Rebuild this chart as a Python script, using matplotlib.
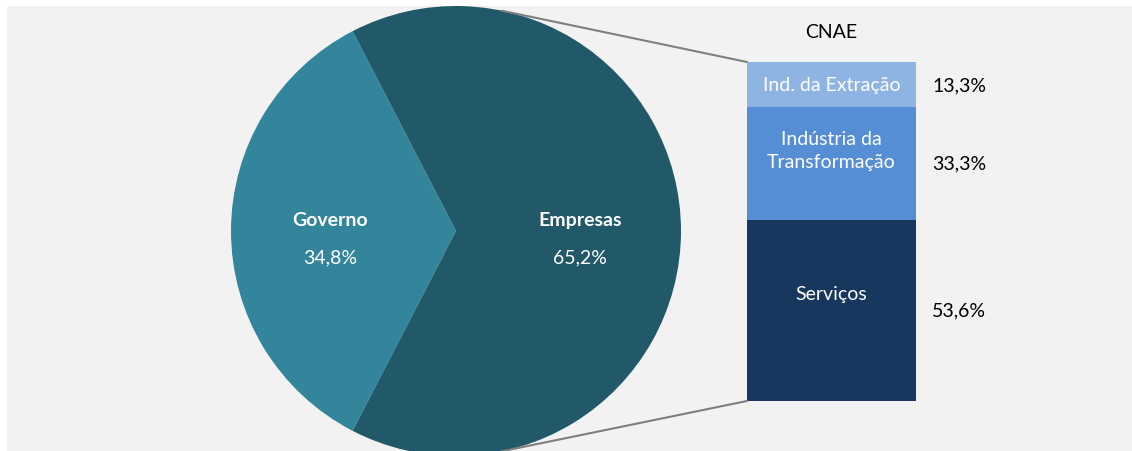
import numpy as np
import matplotlib
matplotlib.use("Agg")
import matplotlib.pyplot as plt
from matplotlib.patches import Rectangle, ConnectionPatch

plt.rcParams['font.family'] = ['Lato', 'DejaVu Sans']

# pie: government vs companies
pie_labels = ['Governo', 'Empresas']
pie_values = [34.8, 65.2]
pie_colors = ['#32859b', '#215968']

# bar: companies split by CNAE section (bottom to top)
bar_labels = ['Serviços', 'Indústria da\nTransformação', 'Ind. da Extração']
bar_values = [53.6, 33.3, 13.3]
bar_colors = ['#18375e', '#558ed5', '#8eb4e3']
bar_title = 'CNAE'


def fmt(v):
    return '{:.1f}%'.format(v).replace('.', ',')


W, H = 1132, 452
fig = plt.figure(figsize=(W / 100, H / 100), dpi=100)
fig.patch.set_facecolor('white')
fig.patches.append(Rectangle((7 / W, 0), 1 - 7 / W, 1 - 7 / H, transform=fig.transFigure,
                             facecolor='#f2f2f2', edgecolor='none', zorder=-10))

# pie axes: centre at (456, 232) px, radius 225 px
cx, cy, r = 456, 232, 225
ax1 = fig.add_axes([(cx - r) / W, (H - cy - r) / H, 2 * r / W, 2 * r / H])
start = 180 - pie_values[0] / sum(pie_values) * 180
ax1.pie(pie_values, colors=pie_colors, startangle=start, radius=1,
        wedgeprops=dict(linewidth=0))
ax1.set_xlim(-1, 1)
ax1.set_ylim(-1, 1)
ax1.set_aspect('equal')
ax1.axis('off')

label_x = [-0.56, 0.551]
for lx, name, v in zip(label_x, pie_labels, pie_values):
    ax1.text(lx, 0.053, name, color='white', fontsize=14, fontweight='bold',
             ha='center', va='center')
    ax1.text(lx, -0.116, fmt(v), color='white', fontsize=14,
             ha='center', va='center')

# stacked bar axes: x 747..916 px, y 63..402 px
bl, bt, bw, bh = 747, 63, 169, 339
ax2 = fig.add_axes([bl / W, (H - bt - bh) / H, bw / W, bh / H])
total = sum(bar_values)
bottom = 0
label_offsets = [-17, -13, 0]
for name, v, c, off in zip(bar_labels, bar_values, bar_colors, label_offsets):
    ax2.bar(0, v, width=1, bottom=bottom, color=c, linewidth=0)
    mid = bottom + v / 2
    ax2.annotate(name, (0, mid), xytext=(0, -off), textcoords='offset pixels',
                 color='white', fontsize=14, ha='center', va='center', linespacing=1.45)
    ax2.annotate(fmt(v), (0.5, mid), xytext=(16, 0), textcoords='offset pixels',
                 color='black', fontsize=14, ha='left', va='center')
    bottom += v
ax2.set_xlim(-0.5, 0.5)
ax2.set_ylim(0, total)
ax2.axis('off')
ax2.annotate(bar_title, (0, total), xytext=(0, 30), textcoords='offset pixels',
             color='black', fontsize=14, ha='center', va='center')


# lines from the bar's left corners, tangent to the pie
def tangent_point(p, upper):
    d2 = p[0] ** 2 + p[1] ** 2
    perp = np.array([-p[1], p[0]])
    s = np.sqrt(d2 - 1)
    t1 = p / d2 + s / d2 * perp
    t2 = p / d2 - s / d2 * perp
    return max(t1, t2, key=lambda t: t[1]) if upper else min(t1, t2, key=lambda t: t[1])


for yb, upper in [(total, True), (0, False)]:
    corner = np.array([-0.5, yb])
    p = ax1.transData.inverted().transform(ax2.transData.transform(corner))
    tp = tangent_point(p, upper)
    con = ConnectionPatch(xyA=tp, coordsA=ax1.transData, xyB=corner, coordsB=ax2.transData,
                          color='#7f7f7f', linewidth=1.5)
    fig.add_artist(con)

fig.savefig('out.png', dpi=100)
